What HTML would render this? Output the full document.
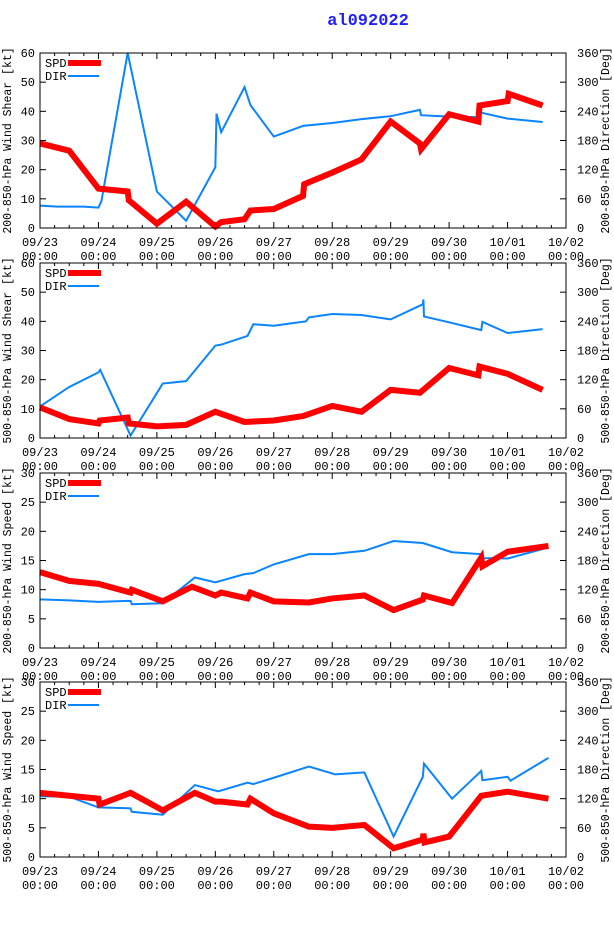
<!DOCTYPE html>
<html><head><meta charset="utf-8"><style>
body{margin:0;background:#fff;}
svg{display:block;font-family:"Liberation Mono","DejaVu Sans Mono",monospace;}
</style></head><body>
<svg id="chart" width="614" height="936" viewBox="0 0 614 936">
<text x="368" y="25" text-anchor="middle" font-size="17" font-weight="bold" fill="#1f1fff">al092022</text>
</svg>
<script>
const xTickLabels=["09/23","09/24","09/25","09/26","09/27","09/28","09/29","09/30","10/01","10/02"];
const dirTicks=[0,60,120,180,240,300,360];
// panel 1: 200-850 shear
const p1SpdDays=[0,0.5,1.0,1.5,1.52,2.0,2.5,3.0,3.1,3.5,3.6,4.0,4.5,4.52,5.0,5.5,6.0,6.5,6.52,7.0,7.5,7.52,8.0,8.02,8.6];
const p1Spd=[29,26.5,13.5,12.5,9.5,1.5,9,0.5,2,3,6,6.5,11,15,19,23.5,36.5,29,27,39,36.5,42,43.5,46,42];
const p1DirDays=[0,0.3,0.75,1.0,1.05,1.5,2.0,2.5,3.0,3.02,3.1,3.5,3.6,4.0,4.5,5.0,5.5,6.0,6.5,6.52,7.0,7.5,7.52,8.0,8.6];
const p1Dir=[46,44,44,42,55,360,75,15,125,235,197,290,253,188,210,216,224,230,243,232,229,228,238,225,218];
// panel 2: 500-850 shear
const p2SpdDays=[0,0.5,1.0,1.02,1.5,1.52,2.0,2.5,3.0,3.5,4.0,4.5,5.0,5.5,6.0,6.5,7.0,7.5,7.52,8.0,8.6];
const p2Spd=[10.5,6.5,5,6,7,5,4,4.5,9,5.5,6,7.5,11,9,16.5,15.5,24,21.5,24.5,22,16.5];
const p2DirDays=[0,0.5,1.0,1.03,1.55,2.1,2.5,3.0,3.1,3.55,3.65,4.0,4.55,4.6,5.0,5.5,6.0,6.55,6.56,6.57,7.0,7.55,7.57,8.0,8.6];
const p2Dir=[65,105,135,140,5,112,117,190,192,210,234,231,240,248,255,253,244,275,285,250,238,222,239,216,224];
// panel 3: 200-850 wind speed
const p3SpdDays=[0,0.5,1.0,1.55,1.57,2.1,2.6,3.0,3.1,3.55,3.6,4.0,4.6,5.0,5.55,6.05,6.55,6.57,7.05,7.55,7.57,8.0,8.7];
const p3Spd=[13,11.5,11,9.5,10,8,10.5,9,9.5,8.5,9.5,8,7.8,8.5,9,6.5,8.3,9,7.7,15.5,14,16.5,17.5];
const p3DirDays=[0,0.5,1.0,1.55,1.57,2.1,2.65,3.0,3.5,3.65,4.0,4.6,5.0,5.55,6.05,6.55,7.05,7.55,7.57,8.0,8.7];
const p3Dir=[100,98,95,97,90,92,145,135,152,154,172,193,193,200,220,216,197,193,185,184,207];
// panel 4: 500-850 wind speed
const p4SpdDays=[0,0.5,1.0,1.02,1.55,2.1,2.65,3.0,3.1,3.55,3.6,4.0,4.6,5.0,5.55,6.05,6.55,6.56,6.58,7.0,7.55,8.0,8.7];
const p4Spd=[11,10.5,10,9,11,8,11,9.5,9.5,9,10,7.5,5.2,5,5.5,1.5,3,4,2.5,3.5,10.5,11.2,10];
const p4DirDays=[0,0.5,1.0,1.55,1.57,2.1,2.65,3.05,3.55,3.65,4.0,4.6,5.05,5.55,6.05,6.55,6.57,7.05,7.55,7.57,8.0,8.05,8.7];
const p4Dir=[125,124,102,100,93,87,148,135,153,150,163,186,170,174,42,165,192,120,177,158,165,157,204];

const panels=[
 {top:53,max:60,step:10,days:[p1SpdDays,p1DirDays],spd:p1Spd,dir:p1Dir,ylab:"200-850-hPa Wind Shear [kt]",rlab:"200-850-hPa Direction [Deg]"},
 {top:263,max:60,step:10,days:[p2SpdDays,p2DirDays],spd:p2Spd,dir:p2Dir,ylab:"500-850-hPa Wind Shear [kt]",rlab:"500-850-hPa Direction [Deg]"},
 {top:473,max:30,step:5,days:[p3SpdDays,p3DirDays],spd:p3Spd,dir:p3Dir,ylab:"200-850-hPa Wind Speed [kt]",rlab:"200-850-hPa Direction [Deg]"},
 {top:682,max:30,step:5,days:[p4SpdDays,p4DirDays],spd:p4Spd,dir:p4Dir,ylab:"500-850-hPa Wind Speed [kt]",rlab:"500-850-hPa Direction [Deg]"}
];
const svg=document.getElementById('chart');
const NS="http://www.w3.org/2000/svg";
const L=40,R=566,H=175,W=R-L;
function mk(tag,attrs,parent){const e=document.createElementNS(NS,tag);for(const k in attrs)e.setAttribute(k,attrs[k]);(parent||svg).appendChild(e);return e;}
panels.forEach((p,i)=>{
 const g=mk('g',{});
 
 
 const B=p.top+H;
 const xs=d=>L+d*W/9, ys=v=>B-v*H/p.max, yd=v=>B-v*H/360;
 for(let k=0;k<=36;k++){const x=xs(k/4);const len=k%4===0?6:3;
  mk('line',{x1:x,y1:B,x2:x,y2:B-len,stroke:'#000'},g);mk('line',{x1:x,y1:p.top,x2:x,y2:p.top+len,stroke:'#000'},g);}
 for(let v=0;v<=p.max;v+=p.step){const y=ys(v);
  mk('line',{x1:L,y1:y,x2:L+6,y2:y,stroke:'#000'},g);
  const t=mk('text',{x:L-5,y:y+4,'text-anchor':'end','font-size':12},g);t.textContent=v;
  
  }
 dirTicks.forEach(v=>{const y=yd(v);
  mk('line',{x1:R,y1:y,x2:R-6,y2:y,stroke:'#000'},g);
  const t=mk('text',{x:R+11,y:y+4,'font-size':12},g);t.textContent=v;
  
  });
 xTickLabels.forEach((s,k)=>{const x=xs(k);
  const t=mk('text',{x:x,y:B+18,'text-anchor':'middle','font-size':12},g);t.textContent=s;
  
  
  const t2=mk('text',{x:x,y:B+32,'text-anchor':'middle','font-size':12},g);t2.textContent="00:00";
  
  });
 const yl=mk('text',{transform:`translate(11,${p.top+H/2}) rotate(-90)`,'text-anchor':'middle','font-size':11.5},g);yl.textContent=p.ylab;
 
 
 const rl=mk('text',{transform:`translate(609,${p.top+H/2}) rotate(-90)`,'text-anchor':'middle','font-size':11.5},g);rl.textContent=p.rlab;
 
 
 const dp=mk('polyline',{points:p.days[1].map((d,j)=>xs(d)+','+yd(p.dir[j])).join(' '),fill:'none',stroke:'#0a84ff','stroke-width':2},g);
 
 
 const sp=mk('polyline',{points:p.days[0].map((d,j)=>xs(d)+','+ys(p.spd[j])).join(' '),fill:'none',stroke:'#ff0000','stroke-width':6,'stroke-linejoin':'miter'},g);
 
 
 const fr=mk('rect',{x:L,y:p.top,width:W,height:H,fill:'none',stroke:'#000'},g);
 
 
 const t1=mk('text',{x:45,y:p.top+14,'font-size':12},g);t1.textContent="SPD";
 
 
 mk('line',{x1:68,y1:p.top+10,x2:101,y2:p.top+10,stroke:'#ff0000','stroke-width':6},g);
 const t2=mk('text',{x:45,y:p.top+27,'font-size':12},g);t2.textContent="DIR";
 
 
 mk('line',{x1:68,y1:p.top+23,x2:99,y2:p.top+23,stroke:'#0a84ff','stroke-width':2},g);
});
</script>
</body></html>
